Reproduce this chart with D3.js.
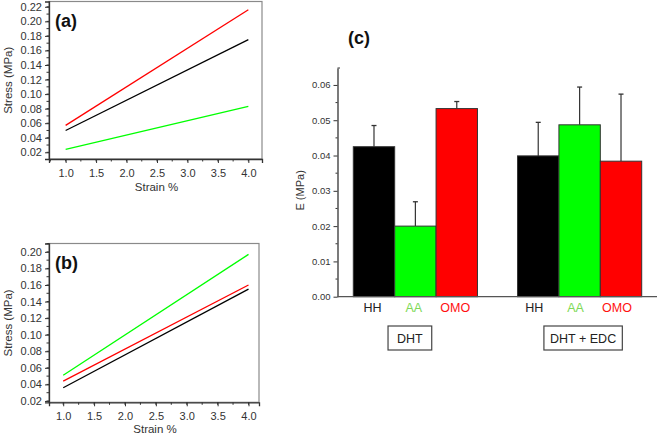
<!DOCTYPE html>
<html><head><meta charset="utf-8">
<script src="https://cdn.jsdelivr.net/npm/d3@7"></script>
<style>
body{margin:0;background:#fff;}
svg{display:block;}
text{font-family:"Liberation Sans",Arial,sans-serif;}
</style></head>
<body><svg id="c" width="660" height="434"></svg>
<script>
// Panel (a) stress-strain
const strainA = [1.0, 4.0];
const aRed = [0.057, 0.216];
const aBlack = [0.050, 0.175];
const aGreen = [0.024, 0.083];
// Panel (b)
const strainB = [1.0, 4.0];
const bGreen = [0.051, 0.197];
const bRed = [0.044, 0.160];
const bBlack = [0.036, 0.155];
// Panel (c) modulus
const groups = ["DHT", "DHT + EDC"];
const materials = ["HH", "AA", "OMO"];
const eDHT = [0.0425, 0.0200, 0.0533];
const errDHT = [0.0060, 0.0069, 0.0020];
const eEDC = [0.0399, 0.0487, 0.0384];
const errEDC = [0.0095, 0.0107, 0.0190];
const xTicks = [1.0, 1.5, 2.0, 2.5, 3.0, 3.5, 4.0];
const yTicksA = [0.02,0.04,0.06,0.08,0.10,0.12,0.14,0.16,0.18,0.20,0.22];
const yTicksB = [0.02,0.04,0.06,0.08,0.10,0.12,0.14,0.16,0.18,0.20];
const yTicksC = [0.00,0.01,0.02,0.03,0.04,0.05,0.06];

const svg = d3.select("#c");
const RED="#ff0000", GREEN="#00ff00", BLACK="#000000";

function linePanel(opt){
  const g = svg.append("g");
  const x = d3.scaleLinear().domain(opt.xd).range([opt.l, opt.r]);
  const y = d3.scaleLinear().domain(opt.yd).range([opt.b, opt.t]);
  g.append("rect").attr("x",opt.l).attr("y",opt.t).attr("width",opt.r-opt.l).attr("height",opt.b-opt.t)
    .attr("fill","none").attr("stroke","#8a8a8a").attr("stroke-width",1.2);
  const xMinor = d3.range(0.75, 4.26, 0.25).filter(v=>v>=opt.xd[0]&&v<=opt.xd[1]);
  g.append("g").selectAll("line").data(xMinor).join("line")
    .attr("x1",d=>x(d)).attr("x2",d=>x(d)).attr("y1",opt.b).attr("y2",opt.b+2.5).attr("stroke","#333");
  const yMinor = d3.range(0.01, 0.23, 0.01).filter(v=>v>=opt.yd[0]&&v<=opt.yd[1]);
  g.append("g").selectAll("line").data(yMinor).join("line")
    .attr("x1",opt.l).attr("x2",opt.l-2.5).attr("y1",d=>y(d)).attr("y2",d=>y(d)).attr("stroke","#333");
  const xa = g.append("g").attr("transform",`translate(0,${opt.b})`)
    .call(d3.axisBottom(x).tickValues(xTicks).tickFormat(d3.format(".1f")).tickSize(4).tickPadding(6));
  const ya = g.append("g").attr("transform",`translate(${opt.l},0)`)
    .call(d3.axisLeft(y).tickValues(opt.yt).tickFormat(d3.format(".2f")).tickSize(4).tickPadding(3));
  [xa,ya].forEach(a=>{
    a.select(".domain").attr("stroke","#333").attr("stroke-width",1.3);
    a.selectAll(".tick line").attr("stroke","#333");
    a.selectAll("text").attr("font-size",11).attr("fill","#333").attr("font-family","Liberation Sans, Arial, sans-serif");
  });
  opt.series.forEach(s=>{
    g.append("path").datum(s.v.map((v,i)=>[opt.xs[i],v]))
      .attr("d",d3.line().x(d=>x(d[0])).y(d=>y(d[1])))
      .attr("stroke",s.c).attr("stroke-width",1.3).attr("fill","none");
  });
  g.append("text").attr("x",(opt.l+opt.r)/2+1).attr("y",opt.b+opt.sy).attr("text-anchor","middle")
    .attr("font-size",11.5).attr("fill","#333").text("Strain %");
  g.append("text").attr("transform",`translate(${opt.ylx},${(opt.t+opt.b)/2}) rotate(-90)`)
    .attr("text-anchor","middle").attr("dy","0.35em").attr("font-size",11.5).attr("fill","#333").text("Stress (MPa)");
  g.append("text").attr("x",opt.l+6).attr("y",opt.t+opt.lblY).attr("font-size",18).attr("font-weight","bold")
    .attr("font-family","Open Sans, DejaVu Sans, sans-serif").attr("fill","#111").text(opt.lbl);
}

linePanel({l:49,r:262,t:1.5,b:159,xd:[0.727,4.224],yd:[0.0108,0.2273],yt:yTicksA,xs:strainA,
  series:[{v:aRed,c:RED},{v:aBlack,c:BLACK},{v:aGreen,c:GREEN}],ylx:8,lbl:"(a)",lblY:25,sy:32});
linePanel({l:49,r:259,t:243.5,b:402.3,xd:[0.77,4.17],yd:[0.0184,0.2101],yt:yTicksB,xs:strainB,
  series:[{v:bGreen,c:GREEN},{v:bRed,c:RED},{v:bBlack,c:BLACK}],ylx:8,lbl:"(b)",lblY:25,sy:30.5});

// Panel (c)
(function(){
  const g = svg.append("g");
  const L=337.5, R=657, T=68, B=296.7;
  const y = d3.scaleLinear().domain([0,0.0648]).range([B,T]);
  const gx = d3.scaleBand().domain(groups).range([353.3,641.7]).paddingInner(31.7/288.4*2.22);
  const bx = d3.scaleBand().domain(materials).range([0,gx.bandwidth()]);
  const fills = {HH:BLACK, AA:GREEN, OMO:RED};
  const lblCol = {HH:"#222", AA:"#7ed957", OMO:"#ff1010"};
  const data = [];
  groups.forEach((gr,gi)=>materials.forEach((m,mi)=>{
    data.push({g:gr,m:m,v:gi===0?eDHT[mi]:eEDC[mi],e:gi===0?errDHT[mi]:errEDC[mi]});
  }));
  const cx = d=>gx(d.g)+bx(d.m)+bx.bandwidth()/2;
  g.append("g").selectAll("line").data(data).join("line")
    .attr("x1",cx).attr("x2",cx).attr("y1",d=>y(d.v)).attr("y2",d=>y(d.v+d.e)).attr("stroke","#333").attr("stroke-width",1.2);
  g.append("g").selectAll("line").data(data).join("line")
    .attr("x1",d=>cx(d)-2.5).attr("x2",d=>cx(d)+2.5).attr("y1",d=>y(d.v+d.e)).attr("y2",d=>y(d.v+d.e)).attr("stroke","#333").attr("stroke-width",1.3);
  g.append("g").selectAll("rect").data(data).join("rect")
    .attr("x",d=>gx(d.g)+bx(d.m)).attr("width",bx.bandwidth())
    .attr("y",d=>y(d.v)).attr("height",d=>B-y(d.v))
    .attr("fill",d=>fills[d.m]).attr("stroke","#333").attr("stroke-width",1);
  g.append("g").selectAll("line").data(d3.range(0.005,0.065,0.01)).join("line")
    .attr("x1",L).attr("x2",L-2).attr("y1",d=>y(d)).attr("y2",d=>y(d)).attr("stroke","#333");
  const ya = g.append("g").attr("transform",`translate(${L},0)`)
    .call(d3.axisLeft(y).tickValues(yTicksC).tickFormat(d3.format(".2f")).tickSize(4).tickPadding(3).tickSizeOuter(0));
  ya.select(".domain").attr("stroke","#333").attr("stroke-width",1.3);
  ya.selectAll(".tick line").attr("stroke","#333");
  ya.selectAll("text").attr("font-size",9.5).attr("fill","#333");
  g.append("line").attr("x1",L).attr("x2",L+2.5).attr("y1",T).attr("y2",T).attr("stroke","#333");
  g.append("line").attr("x1",L).attr("x2",R).attr("y1",B).attr("y2",B).attr("stroke","#555").attr("stroke-width",1.3);
  g.append("g").selectAll("text").data(data).join("text")
    .attr("x",d=>cx(d)-(d.g==="DHT"?1.5:4)).attr("y",312).attr("text-anchor","middle").attr("font-size",12.5)
    .attr("font-family","Open Sans, Lato, sans-serif").attr("fill",d=>lblCol[d.m]).text(d=>d.m);
  const boxW = {"DHT":43.7,"DHT + EDC":78.4};
  groups.forEach(gr=>{
    const c = gx(gr)+gx.bandwidth()/2 - (gr==="DHT"?5.5:-3.5);
    const w = boxW[gr];
    g.append("rect").attr("x",c-w/2).attr("y",326).attr("width",w).attr("height",24)
      .attr("fill","none").attr("stroke","#444").attr("stroke-width",1.2);
    g.append("text").attr("x",c).attr("y",342.5).attr("text-anchor","middle").attr("font-size",12.5)
      .attr("font-family","Open Sans, Lato, sans-serif").attr("fill","#222").text(gr);
  });
  g.append("text").attr("transform",`translate(300,${(T+B)/2+8}) rotate(-90)`).attr("text-anchor","middle")
    .attr("dy","0.35em").attr("font-size",11).attr("fill","#333").text("E (MPa)");
  g.append("text").attr("x",348).attr("y",44).attr("font-size",18).attr("font-weight","bold")
    .attr("font-family","Open Sans, DejaVu Sans, sans-serif").attr("fill","#111").text("(c)");
})();
</script></body></html>
